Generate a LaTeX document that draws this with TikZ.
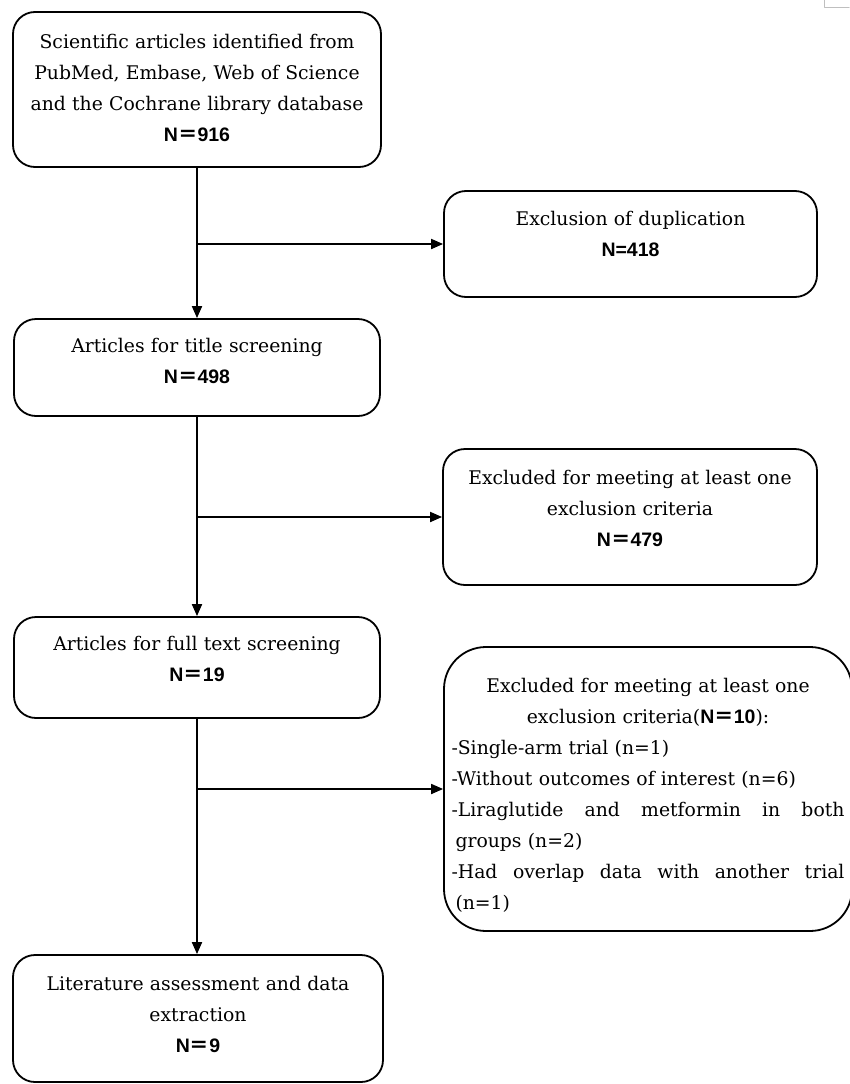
\documentclass[tikz,border=0pt]{standalone}
\usepackage{fontspec}
\setmainfont{DejaVu Serif}
\setsansfont{Liberation Sans}
\newfontfamily\cjk{Noto Sans CJK SC}
\usetikzlibrary{arrows.meta}
\newcommand{\nbold}[1]{{\sffamily\bfseries\fontsize{19.5}{31}\selectfont #1}}
\newcommand{\feq}{{\cjk ＝}}

\begin{document}
\begin{tikzpicture}[x=1pt,y=-1pt,line cap=round,line join=round,>={Triangle[length=12pt,width=10pt]},
    rbox/.style={draw,line width=1.8pt,rounded corners=22pt,inner sep=4pt,
      font=\fontsize{18.8}{31}\selectfont\setlength{\parindent}{0pt}},
    lift/.style={execute at end node={\endgraf\vspace{#1}}}]
  \useasboundingbox (0,0) rectangle (849,1084);
  % left column
  \node (b1) [rbox,minimum width=368pt,minimum height=155pt,text width=360pt,align=center,lift=3pt]
    at (197,89.5) {Scientific articles identified from\\ PubMed, Embase, Web of Science\\ and the Cochrane library database\\ \nbold{N\feq916}};
  \node (b2) [rbox,minimum width=366pt,minimum height=97pt,text width=358pt,align=center,lift=13pt]
    at (197,367.5) {Articles for title screening\\ \nbold{N\feq498}};
  \node (b3) [rbox,minimum width=366pt,minimum height=101pt,text width=358pt,align=center,lift=17pt]
    at (197,667.5) {Articles for full text screening\\ \nbold{N\feq19}};
  \node (b4) [rbox,minimum width=370pt,minimum height=127pt,text width=362pt,align=center,lift=9pt]
    at (198,1018.5) {Literature assessment and data\\ extraction\\ \nbold{N\feq9}};
  % right column
  \node (dup) [rbox,minimum width=373pt,minimum height=106pt,text width=365pt,align=center,lift=20pt]
    at (630.5,244) {Exclusion of duplication\\ \nbold{N=418}};
  \node (ex1) [rbox,minimum width=374pt,minimum height=136pt,text width=366pt,align=center,lift=18pt]
    at (630,517) {Excluded for meeting at least one\\ exclusion criteria\\ \nbold{N\feq479}};
  \node (ex2) [rbox,rounded corners=42pt,minimum width=408pt,minimum height=284pt,text width=393pt,align=left,lift=-13pt]
    at (648,789) {{\centering Excluded for meeting at least one\\ exclusion criteria(\nbold{N\feq10}):\endgraf}
    -Single-arm trial (n=1)\\
    -Without outcomes of interest (n=6)\\
    -Liraglutide\hfill and\hfill metformin\hfill in\hfill both\\
    \hspace*{4pt}groups (n=2)\\
    -Had\hfill overlap\hfill data\hfill with\hfill another\hfill trial\\
    \hspace*{4pt}(n=1)};
  % connectors
  \coordinate (j1) at (b1.south |- dup.west);
  \coordinate (j2) at (b2.south |- ex1.west);
  \coordinate (j3) at (b3.south |- ex2.west);
  \draw [->,line width=1.8pt] (b1.south) -- (b1.south |- b2.north);
  \draw [->,line width=1.8pt] (b2.south) -- (b2.south |- b3.north);
  \draw [->,line width=1.8pt] (b3.south) -- (b3.south |- b4.north);
  \draw [->,line width=1.8pt] (j1) -- (dup.west);
  \draw [->,line width=1.8pt] (j2) -- (ex1.west);
  \draw [->,line width=1.8pt] (j3) -- (ex2.west);
  \draw [gray!50,line width=1pt] (824,0) |- (849,7);
\end{tikzpicture}
\end{document}
